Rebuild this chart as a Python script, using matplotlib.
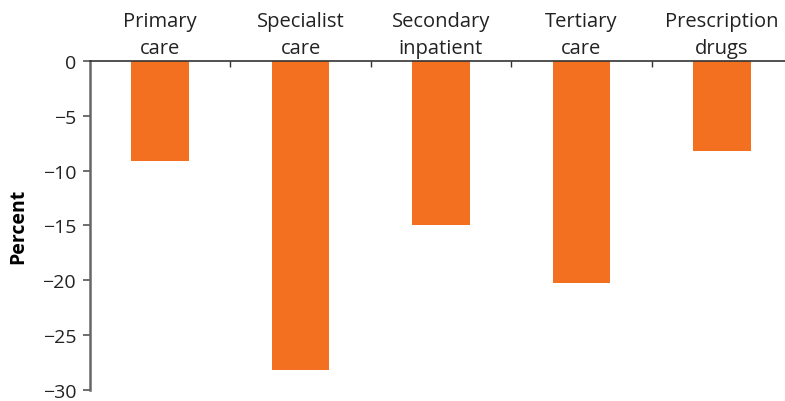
import matplotlib.pyplot as plt

plt.rcParams['font.family'] = ['Open Sans', 'DejaVu Sans']

categories = ['Primary\ncare', 'Specialist\ncare', 'Secondary\ninpatient',
              'Tertiary\ncare', 'Prescription\ndrugs']
values = [-9.1, -28.2, -15.0, -20.2, -8.2]
yticks = [0, -5, -10, -15, -20, -25, -30]

fig = plt.figure(figsize=(7.85, 4.02), dpi=100)
ax = fig.add_axes([0.1146, 0.0274, 0.8854, 0.8184])

xx = range(len(categories))
ax.bar(xx, values, width=0.41, color='#F37021', zorder=2)

ax.set_xlim(-0.5, 4.45)
ax.set_ylim(-30, 0)

# categories on top, small ticks between groups
ax.xaxis.tick_top()
ax.set_xticks(list(xx))
ax.set_xticklabels(categories, fontsize=14.5, color='#222222', linespacing=1.45)
ax.tick_params(axis='x', which='major', length=0, pad=2)
ax.set_xticks([0.5, 1.5, 2.5, 3.5], minor=True)
ax.tick_params(axis='x', which='minor', direction='in', length=4,
               width=1, color='#333333')

ax.set_yticks(yticks)
ax.set_yticklabels(['0', '\u22125', '\u221210', '\u221215', '\u221220',
                    '\u221225', '\u221230'], fontsize=14, color='#222222')
ax.tick_params(axis='y', length=5, width=1.2, color='#555555', pad=5)

ax.set_ylabel('Percent', fontsize=14, fontweight='bold', labelpad=10)

for s in ['right', 'bottom']:
    ax.spines[s].set_visible(False)
ax.spines['left'].set_color('#666666')
ax.spines['left'].set_linewidth(1.8)
ax.spines['top'].set_color('#333333')
ax.spines['top'].set_linewidth(1.2)

fig.savefig('out.png', dpi=100)
